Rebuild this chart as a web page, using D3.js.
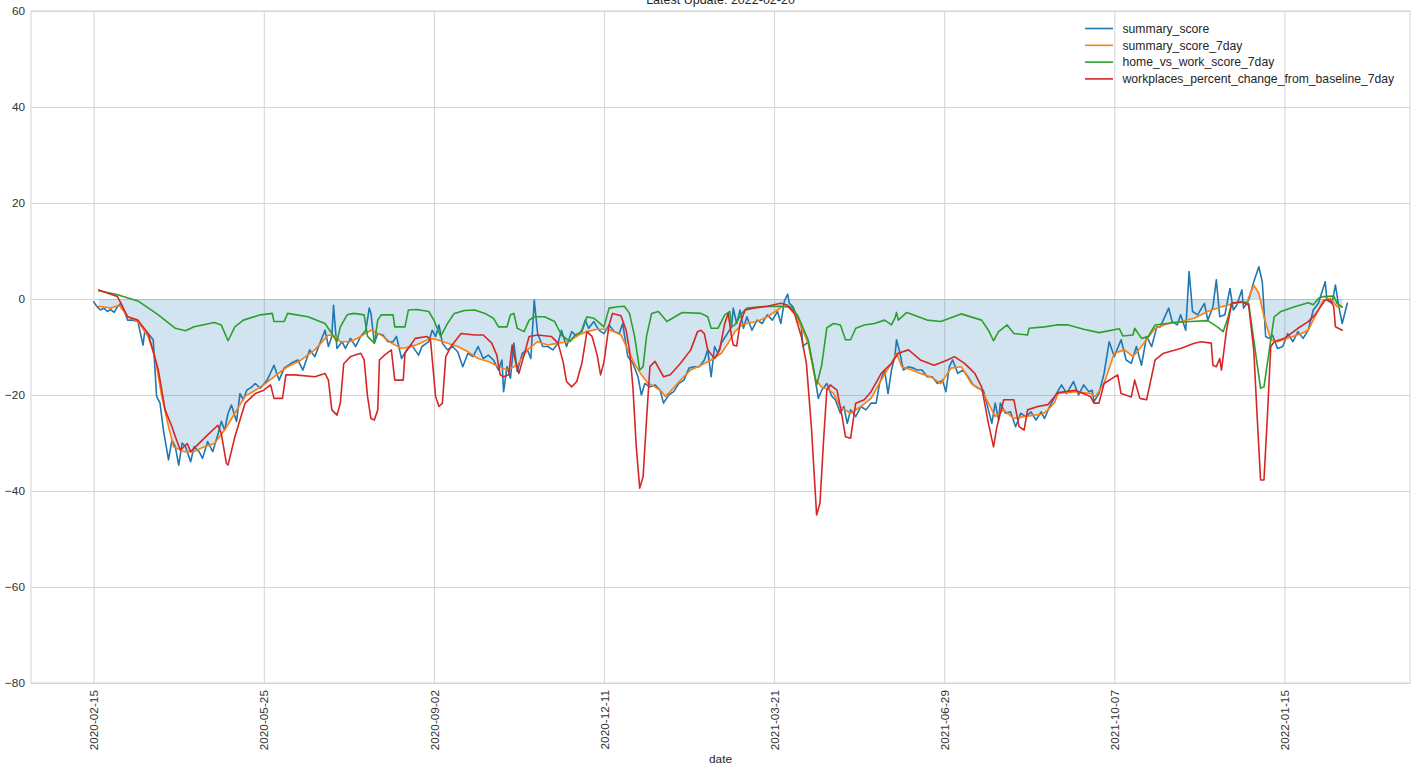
<!DOCTYPE html>
<html>
<head>
<meta charset="utf-8">
<script src="https://cdn.jsdelivr.net/npm/d3@7"></script>
<style>
  html, body { margin: 0; padding: 0; background: #ffffff; }
  svg { display: block; }
  text { font-family: "Liberation Sans", Arial, sans-serif; }
</style>
</head>
<body>
<svg id="chart" width="1418" height="765"></svg>
<script>
// ---------------- DATA ----------------
const startDate = "2020-02-15";
const titleText = "Latest Update: 2022-02-20";
const xTickLabels = ["2020-02-15", "2020-05-25", "2020-09-02", "2020-12-11", "2021-03-21", "2021-06-29", "2021-10-07", "2022-01-15"];
const yTickValues = [-80, -60, -40, -20, 0, 20, 40, 60];
const seriesNames = ["summary_score", "summary_score_7day", "home_vs_work_score_7day", "workplaces_percent_change_from_baseline_7day"];

// days since startDate, and values
const summaryScoreDays = [0,2,4,6,8,10,12,14,16,18,20,23,26,29,30,32,35,37,39,41,44,46,48,50,52,54,57,59,62,64,67,70,73,75,77,79,81,84,86,88,90,93,95,98,102,106,109,112,116,120,123,127,130,133,136,138,140,141,143,146,148,151,154,157,160,162,163,165,167,170,173,176,178,181,184,187,191,193,197,199,201,203,205,208,211,214,217,220,223,226,229,232,235,238,240,241,243,245,247,249,252,255,257,259,261,264,267,270,273,275,278,281,284,287,289,291,294,297,300,303,306,309,311,314,317,320,322,324,327,330,333,335,338,341,344,347,350,353,356,359,361,363,365,367,369,372,375,376,378,380,382,384,387,390,393,396,399,402,404,406,408,409,411,414,416,417,420,423,426,428,431,434,436,439,441,443,445,448,451,454,457,460,462,465,467,469,471,472,474,476,479,482,484,487,490,493,496,499,501,503,505,508,511,514,517,520,523,526,528,530,532,533,536,539,542,545,548,551,554,557,559,562,566,569,572,576,579,582,585,587,588,591,594,597,600,604,607,610,613,616,619,622,625,627,632,634,637,639,642,644,646,649,653,655,658,660,662,665,668,670,672,675,676,679,682,685,687,689,691,693,696,699,702,705,708,711,714,717,720,724,725,728,730,732,734,737];
const summaryScore = [-0.6,-1.6,-2.3,-1.9,-2.6,-2.2,-2.8,-1.6,-0.9,-2.6,-4.4,-4.4,-4.7,-9.6,-6.8,-7.2,-8.5,-20.3,-21.7,-27.3,-33.5,-29.4,-30.8,-34.6,-30.0,-30.8,-33.9,-30.8,-31.8,-33.2,-29.7,-31.8,-28.3,-25.5,-27.3,-23.8,-22.1,-25.5,-19.7,-21.0,-19.0,-18.3,-17.6,-18.6,-16.9,-13.8,-16.9,-14.4,-13.4,-12.7,-14.8,-10.6,-12.0,-9.2,-6.5,-9.9,-7.8,-1.3,-10.3,-8.9,-10.3,-8.2,-9.9,-7.8,-6.5,-1.9,-3.0,-9.2,-7.2,-7.5,-8.9,-8.9,-7.8,-12.4,-10.6,-9.6,-11.7,-9.9,-8.9,-6.5,-7.8,-5.4,-9.2,-10.6,-9.9,-11.0,-14.1,-11.3,-12.0,-9.9,-12.4,-11.7,-12.7,-14.8,-12.7,-19.3,-14.1,-16.5,-9.2,-15.1,-11.3,-10.6,-12.4,-0.2,-7.2,-9.9,-9.9,-10.6,-9.2,-6.5,-9.9,-6.8,-7.8,-6.5,-4.4,-6.1,-4.7,-6.5,-7.2,-5.4,-6.8,-7.2,-5.1,-12.0,-13.4,-16.2,-20.0,-17.6,-18.3,-17.9,-19.0,-21.7,-20.0,-19.3,-17.6,-16.9,-14.4,-14.1,-14.1,-12.7,-10.6,-16.2,-9.9,-11.3,-9.2,-7.5,-5.8,-1.9,-5.1,-2.3,-6.1,-3.7,-6.5,-4.4,-5.1,-3.3,-4.4,-2.6,-5.1,-0.5,1.0,-0.9,-1.6,-4.0,-5.8,-9.9,-8.9,-14.1,-20.7,-19.0,-17.6,-20.3,-21.0,-23.8,-22.4,-25.9,-23.1,-24.5,-22.4,-23.1,-21.7,-21.7,-17.6,-14.8,-19.7,-14.8,-12.0,-8.5,-11.3,-14.8,-14.1,-14.4,-14.8,-14.8,-16.2,-16.2,-17.6,-16.9,-19.3,-14.1,-12.7,-15.5,-14.8,-16.2,-17.9,-18.6,-19.0,-23.1,-25.9,-21.7,-25.2,-21.7,-23.8,-23.5,-26.6,-23.8,-24.5,-23.5,-25.2,-23.5,-24.9,-22.4,-19.7,-17.9,-19.7,-17.2,-20.0,-17.9,-19.3,-19.0,-21.4,-19.7,-15.5,-8.9,-12.0,-8.5,-12.7,-13.4,-9.9,-13.8,-7.8,-9.9,-5.8,-5.8,-1.9,-4.7,-5.4,-3.3,-6.5,5.7,-2.6,-3.3,-0.9,-4.4,-1.6,4.0,-3.7,-3.3,2.2,-2.3,-1.3,1.9,-1.9,-0.2,3.6,6.7,3.6,-7.8,-8.2,-7.5,-10.3,-9.9,-7.2,-8.9,-6.8,-8.2,-6.5,-2.3,-0.9,3.6,-0.2,-0.9,2.9,-1.6,-5.1,-0.9];

const summaryScore7dayDays = [3,10,15,20,26,32,36,40,44,47,53,59,65,71,77,83,89,95,100,106,114,122,130,138,142,145,151,157,163,169,175,181,187,192,198,202,208,214,220,226,232,238,243,249,255,261,267,273,279,285,290,296,302,306,310,314,318,322,326,330,334,336,339,345,351,357,363,369,373,377,381,384,390,396,402,405,408,412,416,420,424,428,432,435,439,445,451,457,463,469,472,475,481,486,492,498,504,510,516,522,526,530,535,541,547,553,558,561,565,567,577,586,589,594,600,606,611,616,624,631,639,647,655,663,671,678,682,685,688,692,696,702,710,714,718,723,727,731,734];
const summaryScore7day = [-1.5,-1.9,-1.3,-3.7,-4.7,-7.8,-12.0,-20.3,-26.6,-30.8,-31.8,-31.8,-30.8,-30.1,-27.3,-23.8,-20.3,-19.0,-17.9,-16.2,-14.1,-12.7,-10.6,-7.5,-7.8,-8.9,-8.9,-7.8,-6.5,-7.5,-9.2,-10.3,-9.9,-9.2,-8.2,-8.5,-9.2,-9.9,-11.0,-12.4,-13.0,-14.1,-14.8,-13.8,-10.6,-8.9,-9.6,-9.2,-8.9,-7.5,-6.8,-6.3,-6.3,-6.8,-7.5,-10.6,-13.5,-15.8,-17.6,-18.3,-19.3,-20.3,-19.3,-16.9,-14.8,-13.8,-12.7,-11.3,-9.2,-6.8,-5.4,-5.1,-4.7,-3.7,-2.3,-1.5,-1.6,-3.0,-5.8,-9.2,-16.5,-18.4,-18.8,-19.7,-22.5,-23.8,-22.4,-20.7,-16.9,-13.4,-11.3,-14.1,-14.8,-15.5,-16.2,-17.6,-14.4,-14.1,-17.6,-19.0,-21.7,-24.5,-23.1,-24.9,-24.5,-24.2,-24.0,-23.1,-21.5,-19.7,-19.3,-19.7,-20.3,-17.6,-11.3,-10.6,-12.0,-9.9,-6.1,-5.2,-4.7,-4.0,-2.6,-1.6,-0.9,-0.6,2.9,1.2,-3.7,-8.5,-8.9,-8.2,-7.2,-6.5,-3.7,-0.2,0.1,-1.6,-1.6];

const homeVsWork7dayDays = [3,13,26,38,48,54,59,71,75,79,83,88,98,105,106,112,114,126,136,140,143,145,149,153,159,161,165,167,169,176,177,183,185,190,197,200,204,208,212,218,224,230,235,238,243,245,247,249,253,256,259,265,271,275,280,283,287,290,294,300,303,308,312,315,318,321,323,325,328,332,337,346,357,361,363,367,371,374,375,377,381,384,392,404,410,414,420,425,428,431,435,439,442,445,448,453,459,465,469,471,472,473,478,490,498,510,522,526,529,532,537,541,549,550,559,566,573,582,591,603,605,611,612,616,620,624,635,645,655,661,664,667,669,674,679,682,686,688,692,694,698,706,714,717,720,723,729,731,734];
const homeVsWork7day = [1.7,1.0,-0.4,-3.3,-6.1,-6.6,-5.8,-4.9,-5.4,-8.7,-5.8,-4.4,-3.3,-3.0,-4.7,-4.7,-3.0,-3.7,-5.1,-7.2,-8.9,-5.8,-3.3,-3.0,-3.3,-7.8,-9.2,-4.4,-3.3,-3.3,-5.8,-5.8,-2.3,-2.2,-2.6,-4.4,-7.8,-5.1,-3.0,-2.4,-2.3,-3.0,-4.0,-5.8,-5.8,-3.3,-3.0,-6.1,-6.8,-4.4,-3.7,-3.7,-4.7,-7.5,-8.9,-7.5,-6.8,-3.7,-4.0,-5.8,-1.9,-1.6,-1.5,-3.0,-7.8,-14.8,-14.1,-7.8,-3.0,-2.6,-4.7,-2.8,-3.0,-3.7,-6.1,-6.1,-3.3,-2.6,-5.8,-5.4,-3.0,-1.9,-1.6,-1.5,-1.7,-3.5,-8.5,-18.0,-13.8,-6.0,-5.1,-5.4,-8.5,-8.5,-6.1,-5.4,-5.1,-4.4,-5.4,-4.0,-2.8,-4.4,-2.8,-4.4,-4.7,-3.1,-4.4,-6.5,-8.7,-6.8,-5.4,-7.2,-7.5,-6.1,-5.8,-5.4,-5.4,-6.3,-7.0,-6.2,-7.7,-7.5,-6.1,-8.2,-7.8,-5.4,-4.9,-4.7,-4.5,-5.9,-6.8,-3.7,-0.9,-0.6,-0.9,-8.5,-18.6,-18.3,-8.5,-3.7,-2.6,-1.6,-0.8,-1.2,0.1,0.5,0.6,-0.9,-1.7];

const workplaces7dayDays = [3,10,14,20,26,32,38,42,46,48,51,55,57,63,67,73,75,78,79,83,89,95,100,104,106,111,113,118,130,136,138,140,143,145,147,151,157,159,161,163,165,167,168,171,175,177,182,183,189,196,198,201,203,205,207,210,216,224,229,234,237,239,241,244,246,248,250,253,256,261,269,273,276,278,281,284,287,290,293,296,298,300,303,305,310,313,315,317,319,321,323,325,327,330,335,339,345,351,355,357,359,361,365,368,371,373,375,376,378,380,383,388,396,404,408,412,416,419,422,425,427,429,431,433,437,440,442,445,448,453,457,463,469,473,479,486,494,502,506,512,518,522,526,529,531,535,541,544,547,549,555,561,567,577,586,588,591,594,602,604,610,612,615,619,624,629,639,647,651,657,658,660,662,663,666,669,675,679,682,684,686,688,690,692,694,700,708,714,718,724,727,729,730,734];
const workplaces7day = [1.9,1.0,0.5,-3.7,-4.4,-7.2,-14.8,-23.1,-26.6,-28.7,-31.5,-30.1,-31.8,-29.7,-28.3,-26.3,-28.0,-34.2,-34.6,-28.7,-21.7,-19.7,-19.0,-17.9,-20.7,-20.7,-15.8,-15.8,-16.2,-15.5,-16.9,-23.1,-24.2,-21.7,-13.5,-12.0,-11.3,-12.7,-20.3,-24.9,-25.2,-23.1,-12.7,-11.7,-10.6,-16.9,-16.9,-11.3,-8.2,-7.8,-8.5,-20.3,-22.4,-21.7,-12.0,-9.9,-7.2,-7.5,-7.5,-9.2,-11.7,-15.8,-16.2,-15.8,-9.6,-13.1,-15.5,-11.7,-7.8,-7.5,-7.8,-9.2,-13.1,-17.2,-18.3,-17.2,-13.4,-6.8,-7.8,-11.7,-15.8,-13.1,-5.4,-3.0,-3.5,-6.5,-10.6,-18.3,-30.8,-39.4,-37.0,-25.2,-14.1,-13.0,-16.2,-15.8,-13.4,-10.6,-6.8,-6.5,-7.2,-10.6,-12.4,-10.6,-5.1,-3.0,-7.8,-9.6,-9.8,-5.1,-2.3,-1.9,-1.5,-0.9,-1.3,-3.0,-7.8,-13.4,-27.0,-45.0,-42.5,-30.0,-19.0,-17.9,-19.0,-24.5,-28.7,-29.0,-21.7,-21.0,-19.3,-15.5,-13.4,-11.3,-10.6,-12.7,-13.8,-12.7,-12.0,-13.4,-15.5,-18.3,-25.9,-30.8,-26.6,-21.0,-21.0,-26.6,-27.3,-23.1,-22.4,-22.0,-19.5,-19.0,-20.3,-21.7,-21.7,-17.6,-15.8,-19.7,-20.4,-16.9,-20.7,-21.0,-12.7,-11.3,-10.3,-9.2,-8.9,-9.2,-13.8,-14.1,-12.4,-14.8,-6.5,-0.9,-0.6,-1.3,-10.6,-24.5,-37.7,-37.7,-24.5,-9.9,-8.9,-8.2,-6.1,-4.7,-3.3,-0.2,-0.2,-1.6,-5.8,-6.5];

const colors = ["#1f77b4", "#ff7f0e", "#2ca02c", "#d62728"];

// ---------------- CHART ----------------
const W = 1418, H = 765;
const margin = { left: 31, right: 8, top: 11, bottom: 82 };
const plotW = W - margin.left - margin.right;
const plotH = H - margin.top - margin.bottom;

const parseDate = d3.utcParse("%Y-%m-%d");
const t0 = parseDate(startDate);
const toDate = d => d3.utcDay.offset(t0, d);

function pairs(days, vals) { return days.map((d, i) => ({ date: toDate(d), value: vals[i] })); }
const s1 = pairs(summaryScoreDays, summaryScore);
const s2 = pairs(summaryScore7dayDays, summaryScore7day);
const s3 = pairs(homeVsWork7dayDays, homeVsWork7day);
const s4 = pairs(workplaces7dayDays, workplaces7day);
const all = [s1, s2, s3, s4];

// matplotlib-like 5% margins on x
const allDates = all.flat().map(d => d.date);
const [dMin, dMax] = d3.extent(allDates);
const span = dMax - dMin;
const x = d3.scaleUtc()
  .domain([new Date(+dMin - span * 0.05), new Date(+dMax + span * 0.05)])
  .range([0, plotW]);
const y = d3.scaleLinear().domain([-80, 60]).range([plotH, 0]);

const svg = d3.select("#chart");
svg.append("rect").attr("width", W).attr("height", H).attr("fill", "#ffffff");
const g = svg.append("g").attr("transform", `translate(${margin.left},${margin.top})`);

// grid via axes
const xTickDates = xTickLabels.map(parseDate);
const xAxis = d3.axisBottom(x).tickValues(xTickDates).tickSize(-plotH).tickPadding(7)
  .tickFormat(d3.utcFormat("%Y-%m-%d"));
const yAxis = d3.axisLeft(y).tickValues(yTickValues).tickSize(-plotW).tickPadding(6)
  .tickFormat(d3.format("d"));

const gx = g.append("g").attr("transform", `translate(0,${plotH})`).call(xAxis);
const gy = g.append("g").call(yAxis);
[gx, gy].forEach(a => {
  a.select(".domain").remove();
  a.selectAll(".tick line").attr("stroke", "#d4d4d4").attr("stroke-width", 1);
  a.selectAll(".tick text").attr("fill", "#333333").style("font-size", "11.8px")
    .style("font-family", "'Liberation Sans', Arial, sans-serif");
});
gx.selectAll(".tick text")
  .attr("transform", "rotate(-90)")
  .attr("text-anchor", "end")
  .attr("x", -7).attr("y", 0).attr("dy", "0.35em");

// fill between 0 and 7-day summary score
const area = d3.area().x(d => x(d.date)).y0(y(0)).y1(d => y(d.value));
g.append("path").datum(s2).attr("d", area).attr("fill", "#1f77b4").attr("fill-opacity", 0.2);

// lines
const line = d3.line().x(d => x(d.date)).y(d => y(d.value));
all.forEach((s, i) => {
  g.append("path").datum(s).attr("d", line)
    .attr("fill", "none").attr("stroke", colors[i]).attr("stroke-width", 1.6)
    .attr("stroke-linejoin", "round").attr("stroke-linecap", "round");
});

// frame
g.append("rect").attr("width", plotW).attr("height", plotH)
  .attr("fill", "none").attr("stroke", "#d4d4d4").attr("stroke-width", 1);

// title
svg.append("text").attr("x", margin.left + plotW / 2).attr("y", 4)
  .attr("text-anchor", "middle").style("font-size", "12.5px").attr("fill", "#262626")
  .text(titleText);

// x label
svg.append("text").attr("x", margin.left + plotW / 2).attr("y", 763)
  .attr("text-anchor", "middle").style("font-size", "11.8px").attr("fill", "#262626")
  .text("date");

// legend
const lg = svg.append("g").attr("transform", "translate(1085,28.5)");
seriesNames.forEach((name, i) => {
  const row = lg.append("g").attr("transform", `translate(0,${i * 16.8})`);
  row.append("line").attr("x1", 0).attr("x2", 28).attr("y1", 0).attr("y2", 0)
    .attr("stroke", colors[i]).attr("stroke-width", 1.6);
  row.append("text").attr("x", 37.5).attr("y", 0).attr("dy", "0.35em")
    .style("font-size", "12.2px").attr("fill", "#262626").text(name);
});
</script>
</body>
</html>
